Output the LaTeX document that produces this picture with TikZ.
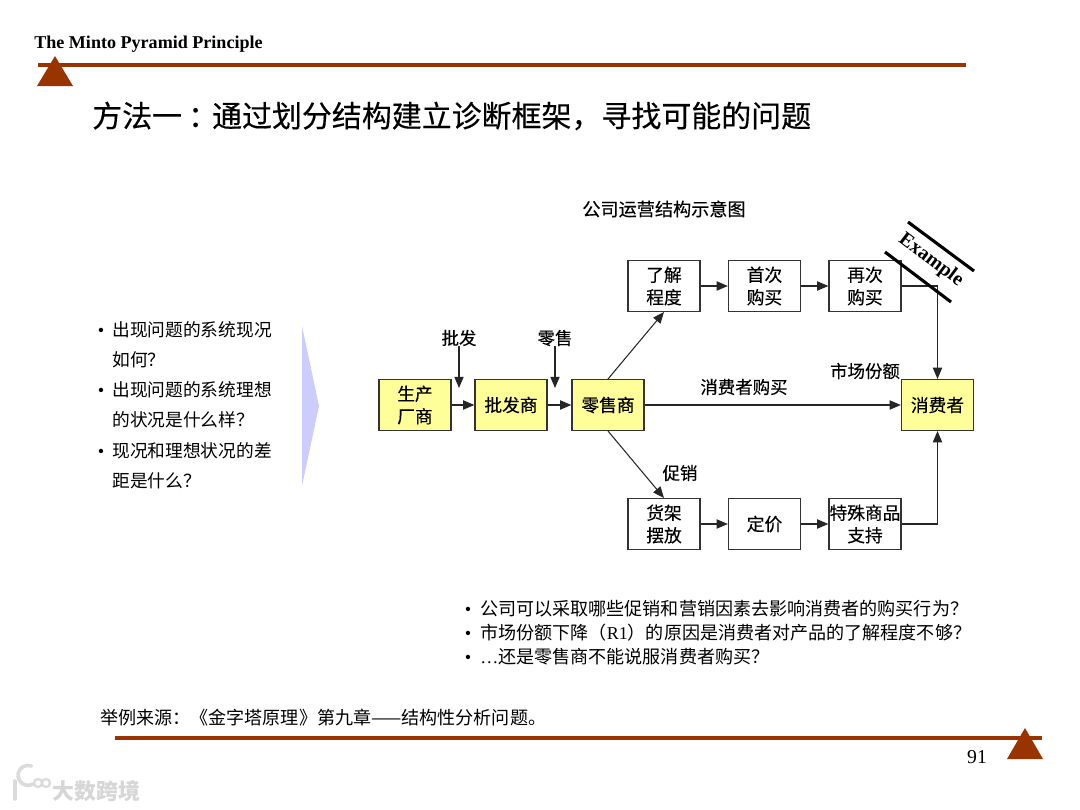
\documentclass[tikz,border=0pt]{standalone}
\usepackage{fontspec}
\usepackage{xcolor}
\setmainfont{Liberation Serif}
\newfontfamily\cjk{Noto Sans CJK SC}
\newfontfamily\cjkmed[FakeBold=0.35]{Noto Sans CJK SC}
\usetikzlibrary{positioning, arrows.meta}
\definecolor{rulered}{HTML}{993300}
\definecolor{boxyellow}{HTML}{FFFF99}
\definecolor{chevron}{HTML}{CCCCFF}
\tikzset{
  stepbox/.style={draw=black!80, line width=0.9pt, rectangle, minimum width=1.8cm, minimum height=1.27cm, inner sep=0pt, align=center, font=\cjkmed\fontsize{12.6}{16}\selectfont},
  keybox/.style={stepbox, fill=boxyellow},
  flowlabel/.style={inner sep=0pt, font=\cjkmed\fontsize{12.4}{15}\selectfont},
  bodyline/.style={anchor=west, inner sep=0pt, font=\cjk\fontsize{12.6}{15}\selectfont},
  wideline/.style={bodyline, font=\cjk\fontsize{12.85}{15}\selectfont},
  dotmark/.style={inner sep=0pt, yshift=-1.6pt, font=\fontsize{13}{15}\selectfont},
  flow/.style={-{Triangle[length=8pt, width=6.6pt]}, draw=black!85, line width=0.75pt},
  rulebar/.style={draw=rulered, line width=2.9pt},
  slash/.style={draw=black, line width=2.2pt},
  marklight/.style={draw=black!14, line cap=round},
}
\begin{document}
\begin{tikzpicture}[x=0.025cm, y=-0.025cm]
      \useasboundingbox (0, 0) rectangle (1080, 810);

      % Header
      \node[inner sep=0pt, anchor=west, font=\bfseries\fontsize{12.85}{15}\selectfont] (header) at (34, 44) {The Minto Pyramid Principle};
      \draw[rulebar] (38, 65) -- (966, 65);
      \fill[rulered] (55, 56) -- (73, 86) -- (37, 86) -- cycle;
      \node[inner sep=0pt, anchor=west, font=\cjkmed\fontsize{21.3}{26}\selectfont] (title) at (92, 116) {方法一\kern.2em：\kern-.2em 通过划分结构建立诊断框架，寻找可能的问题};

      % Left questions
      \foreach \y/\dotted/\txt in {330/1/出现问题的系统现况, 360/0/如何？, 390/1/出现问题的系统理想, 420/0/的状况是什么样？, 451/1/现况和理想状况的差, 481/0/距是什么？} {
        \node[bodyline] (left\y) at (112, \y) {\txt};
        \ifnum\dotted=1 \node[dotmark] (dot\y) at (101, \y) {•}; \fi
      }
      \fill[chevron] (302, 326) -- (319, 406) -- (302, 486) -- cycle;

      % Chart heading
      \node[flowlabel, font=\cjkmed\fontsize{12.9}{15}\selectfont] (charttitle) at (664, 209) {公司运营结构示意图};

      % Main chain
      \node[keybox] (maker) at (415, 405) {生产\\厂商};
      \node[keybox] (wholesaler) at (511, 405) {批发商};
      \node[keybox] (retailer) at (608, 405) {零售商};
      \node[keybox] (consumer) at (937.5, 405) {消费者};

      % Upper and lower rows
      \node[stepbox] (aware) at (664, 286) {了解\\程度};
      \node[stepbox] (firstbuy) at (764.5, 286) {首次\\购买};
      \node[stepbox] (rebuy) at (865, 286) {再次\\购买};
      \node[stepbox] (shelf) at (664, 524) {货架\\摆放};
      \node[stepbox] (price) at (764.5, 524) {定价};
      \node[stepbox] (special) at (865, 524) {特殊商品\\支持};

      % Labels
      \node[flowlabel] (wholesale) at (459, 338) {批发};
      \node[flowlabel] (retail) at (555, 338) {零售};
      \node[flowlabel] (buying) at (744, 387) {消费者购买};
      \node[flowlabel] (share) at (865, 371) {市场份额};
      \node[flowlabel] (promo) at (680, 473) {促销};
      \coordinate (wholesaleend) at (459, 388);
      \coordinate (retailend) at (555, 388);
      \coordinate (upperbend) at (937.5, 286);
      \coordinate (lowerbend) at (937.5, 524);

      % Arrows
      \draw[flow] (maker) -- (wholesaler);
      \draw[flow] (wholesaler) -- (retailer);
      \draw[flow] (retailer) -- (consumer);
      \draw[flow] (wholesale) -- (wholesaleend);
      \draw[flow] (retail) -- (retailend);
      \draw[flow] (retailer.north) -- (aware.south);
      \draw[flow] (retailer.south) -- (shelf.north);
      \draw[flow] (aware) -- (firstbuy);
      \draw[flow] (firstbuy) -- (rebuy);
      \draw[flow] (shelf) -- (price);
      \draw[flow] (price) -- (special);
      \draw[flow] (rebuy.east) -- (upperbend) -- (consumer.north);
      \draw[flow] (special.east) -- (lowerbend) -- (consumer.south);

      % Example stamp
      \coordinate (slashaa) at (908, 222);
      \coordinate (slashab) at (974, 271);
      \coordinate (slashba) at (885, 252);
      \coordinate (slashbb) at (951, 302);
      \draw[slash] (slashaa) -- (slashab);
      \draw[slash] (slashba) -- (slashbb);
      \node[rotate=-37, inner sep=0pt, font=\bfseries\fontsize{14.2}{16}\selectfont] (example) at (931, 260) {Example};

      % Bottom questions
      \foreach \y/\txt in {609/公司可以采取哪些促销和营销因素去影响消费者的购买行为？, 633/市场份额下降（{\rmfamily R1}）的原因是消费者对产品的了解程度不够？, 657/{\rmfamily …}还是零售商不能说服消费者购买？} {
        \node[wideline] (bottom\y) at (480, \y) {\txt};
        \node[dotmark] (mark\y) at (468, \y) {•};
      }

      % Footer
      \node[wideline] (source) at (100, 718) {举例来源：《金字塔原理》第九章——结构性分析问题。};
      \draw[rulebar] (115, 738) -- (1042, 738);
      \fill[rulered] (1025, 728) -- (1043, 759) -- (1007, 759) -- cycle;
      \node[inner sep=0pt, font=\fontsize{14}{16}\selectfont] (pagenum) at (977, 757) {91};

      % Watermark
      \draw[marklight, line width=2.6pt] (15, 781) -- (15, 799);
      \draw[marklight, line width=2.6pt] (33, 784) arc (60:290:10);
      \draw[marklight, line width=1.6pt] (38, 783) circle (4);
      \draw[marklight, line width=1.6pt] (46, 783) circle (4);
      \node[inner sep=0pt, anchor=west, text=black!16, font=\cjk\bfseries\fontsize{15.6}{18}\selectfont] (watermark) at (52, 791) {大数跨境};
    \end{tikzpicture}
\end{document}
